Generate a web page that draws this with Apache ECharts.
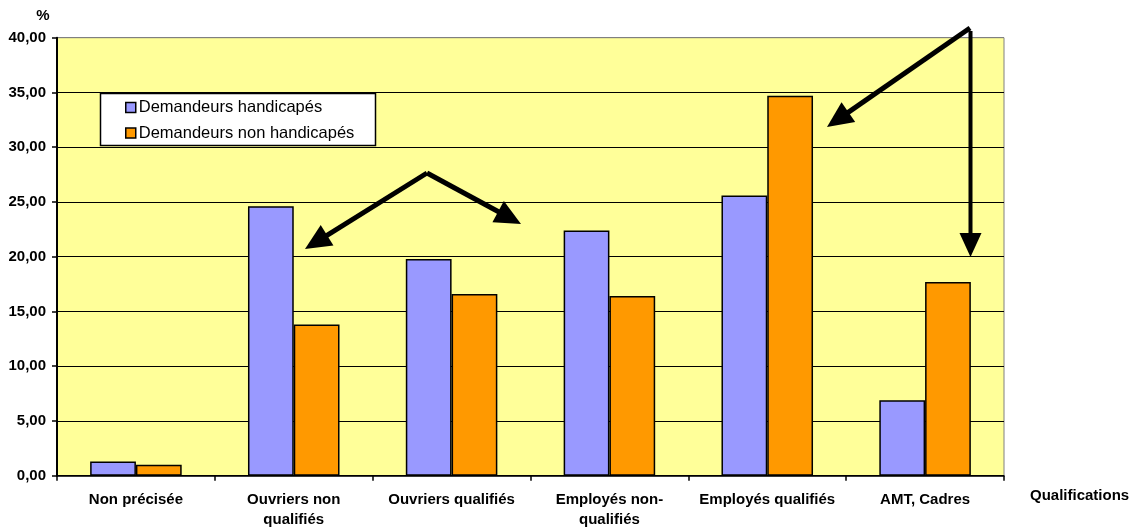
<!DOCTYPE html>
<html>
<head>
<meta charset="utf-8">
<script src="https://cdn.jsdelivr.net/npm/echarts@6/dist/echarts.min.js"></script>
<style>
  html, body { margin: 0; padding: 0; background: #ffffff; }
  #chart { width: 1137px; height: 531px; }
</style>
</head>
<body>
<div id="chart"></div>
<script>
// Répartition des demandeurs d'emploi par qualification (%)
const categories = [
  'Non précisée',
  'Ouvriers non\nqualifiés',
  'Ouvriers qualifiés',
  'Employés non-\nqualifiés',
  'Employés qualifiés',
  'AMT, Cadres'
];
const handicapes    = [1.3, 24.6, 19.8, 22.4, 25.6, 6.9];
const nonHandicapes = [1.0, 13.8, 16.6, 16.4, 34.7, 17.7];
const seriesNames = ['Demandeurs handicapés', 'Demandeurs non handicapés'];

const FONT = 'Arial, "Liberation Sans", sans-serif';

// Flèches d'annotation : segment + pointe triangulaire
function arrow(x1, y1, x2, y2, w, headLen, headW) {
  const dx = x2 - x1, dy = y2 - y1;
  const len = Math.sqrt(dx * dx + dy * dy);
  const ux = dx / len, uy = dy / len;
  const bx = x2 - ux * headLen, by = y2 - uy * headLen;
  const px = -uy * headW / 2, py = ux * headW / 2;
  return [
    { type: 'line', z: 10, shape: { x1: x1, y1: y1, x2: bx + ux * 2, y2: by + uy * 2 },
      style: { stroke: '#000', lineWidth: w, lineCap: 'butt' } },
    { type: 'polygon', z: 10, shape: { points: [[x2, y2], [bx + px, by + py], [bx - px, by - py]] },
      style: { fill: '#000' } }
  ];
}

const chart = echarts.init(document.getElementById('chart'), null, { renderer: 'canvas' });

const option = {
  backgroundColor: '#ffffff',
  animation: false,
  textStyle: { fontFamily: FONT },
  grid: {
    left: 57, right: 133, top: 37.7, bottom: 55.3,
    show: true,
    backgroundColor: '#FFFF99',
    borderColor: '#808080',
    borderWidth: 1
  },
  legend: {
    orient: 'vertical',
    left: 125,
    top: 99,
    itemWidth: 10,
    itemHeight: 10,
    itemGap: 8.6,
    icon: 'rect',
    padding: 0,
    itemStyle: { borderColor: '#000', borderWidth: 1.5 },
    textStyle: { fontFamily: FONT, fontSize: 16.5, color: '#000', lineHeight: 17, padding: [0, 0, 0, -2] },
    data: seriesNames
  },
  xAxis: {
    type: 'category',
    data: categories,
    boundaryGap: true,
    name: 'Qualifications',
    nameLocation: 'end',
    nameGap: 26,
    nameTextStyle: { fontFamily: FONT, fontSize: 15, fontWeight: 'bold', color: '#000',
                     verticalAlign: 'top', align: 'left', padding: [13, 0, 0, 0] },
    axisLine: { lineStyle: { color: '#000', width: 1.5 } },
    axisTick: { show: true, interval: 0, length: 5, inside: false, lineStyle: { color: '#000', width: 1.5 } },
    axisLabel: { interval: 0, margin: 14, fontFamily: FONT, fontSize: 15, fontWeight: 'bold',
                 color: '#000', lineHeight: 20 },
    splitLine: { show: false }
  },
  yAxis: {
    type: 'value',
    min: 0, max: 40, interval: 5,
    name: '%',
    nameLocation: 'end',
    nameGap: 14,
    nameTextStyle: { fontFamily: FONT, fontSize: 15, fontWeight: 'bold', color: '#000',
                     align: 'center', padding: [0, 28, 0, 0] },
    axisLine: { show: true, lineStyle: { color: '#000', width: 2 } },
    axisTick: { show: true, length: 5, inside: false, lineStyle: { color: '#000', width: 1.5 } },
    axisLabel: { margin: 11, fontFamily: FONT, fontSize: 15, fontWeight: 'bold', color: '#000',
                 formatter: v => v.toFixed(2).replace('.', ',') },
    splitLine: { show: true, lineStyle: { color: ['#000', '#000', '#000', '#000', '#000', '#000', '#000', '#000', '#808080'], width: 1.2 } }
  },
  series: [
    {
      name: seriesNames[0], type: 'bar', data: handicapes,
      barGap: '0%', barCategoryGap: '42%',
      itemStyle: { color: '#9999FF', borderColor: '#000', borderWidth: 1.5 }
    },
    {
      name: seriesNames[1], type: 'bar', data: nonHandicapes,
      barGap: '0%', barCategoryGap: '42%',
      itemStyle: { color: '#FF9900', borderColor: '#000', borderWidth: 1.5 }
    }
  ],
  graphic: [
    // Cadre de la légende
    { type: 'rect', z: 3, shape: { x: 100.5, y: 93.5, width: 275, height: 52 },
      style: { fill: '#ffffff', stroke: '#000', lineWidth: 1.5 } }
  ]
    .concat(arrow(427, 173, 305, 249, 5, 26, 24))
    .concat(arrow(427, 173, 521, 224, 5, 26, 24))
    .concat(arrow(970, 28, 827, 127, 5, 26, 24))
    .concat(arrow(970.5, 31, 970.5, 257, 4, 24, 22))
};

chart.setOption(option);
</script>
</body>
</html>
